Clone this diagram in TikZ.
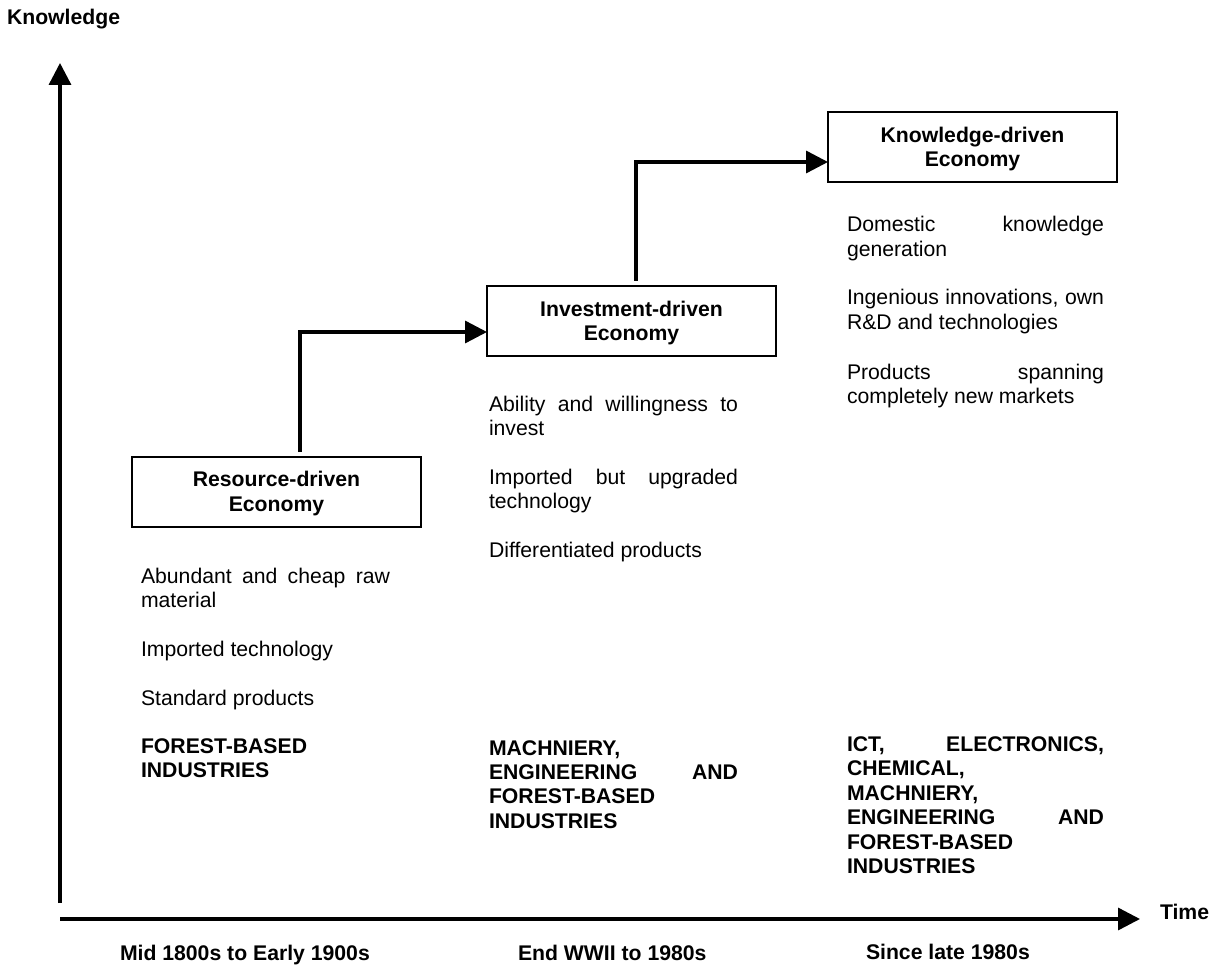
\documentclass[tikz,border=0pt]{standalone}
\usepackage{fontspec}
\setmainfont{Liberation Sans}
\usetikzlibrary{arrows.meta}
\hyphenpenalty=10000
\exhyphenpenalty=10000
\tolerance=10000
\hbadness=10000
\begin{document}
\begin{tikzpicture}[x=1pt,y=-1pt,
  every node/.style={inner sep=0pt, outer sep=0pt},
  txt/.style={font=\fontsize{21.2}{24.4}\selectfont, anchor=base west},
  btxt/.style={font=\fontsize{21.2}{24.4}\selectfont\bfseries, anchor=base west},
  col/.style={txt, text width=#1, align=justify},
  bcol/.style={btxt, text width=#1, align=justify},
  box/.style={draw, line width=1.5pt, minimum width=289pt, minimum height=70pt},
  boxtxt/.style={font=\fontsize{21.2}{24.4}\selectfont\bfseries, align=center, anchor=base},
  conn/.style={line width=3.4pt, -{Triangle[length=22pt,width=22pt]}}
]
\useasboundingbox[fill=white] (0,0) rectangle (1215,965);

% axes
\coordinate (yb) at (60,903);
\coordinate (yt) at (60,63);
\coordinate (xb) at (60,919);
\coordinate (xt) at (1140,919);
\draw[conn] (yb) -- (yt);
\draw[conn] (xb) -- (xt);
\node[btxt] (klab) at (7,25) {Knowledge};
\node[btxt] (tlab) at (1160,919) {Time};

% boxes
\node[box] (res) at (276.5,492) {};
\node[boxtxt] (rest) at (276.5,511) {Resource-driven\\Economy};
\node[box] (inv) at (631.5,321) {};
\node[boxtxt] (invt) at (631.5,341) {Investment-driven\\Economy};
\node[box] (kno) at (972.5,147) {};
\node[boxtxt] (knot) at (972.5,167) {Knowledge-driven\\Economy};

% connectors
\draw[conn, shorten <=5pt] ([xshift=23.5pt]res.north) |- ([yshift=-11pt]inv.west);
\draw[conn, shorten <=5pt] ([xshift=4.5pt]inv.north) |- ([yshift=-15pt]kno.west);

% resource column
\node[col=249pt] (r1) at (141,583) {Abundant and cheap raw\linebreak material};
\node[col=249pt] (r2) at (141,656.5) {Imported technology};
\node[col=249pt] (r3) at (141,705) {Standard products};
\node[bcol=249pt] (r4) at (141,753.5) {FOREST-BASED\linebreak INDUSTRIES};

% investment column
\node[col=249pt] (i1) at (489,411) {Ability and willingness to\linebreak invest};
\node[col=249pt] (i2) at (489,484) {Imported but upgraded\linebreak technology};
\node[col=249pt] (i3) at (489,557) {Differentiated products};
\node[bcol=249pt] (i4) at (489,755) {MACHNIERY,\linebreak ENGINEERING AND\linebreak FOREST-BASED\linebreak INDUSTRIES};

% knowledge column
\node[col=257pt] (k1) at (847,232) {Domestic knowledge\linebreak generation};
\node[col=257pt] (k2) at (847,305) {Ingenious innovations, own\linebreak R\&D and technologies};
\node[col=257pt] (k3) at (847,379) {Products spanning\linebreak completely new markets};
\node[bcol=257pt] (k4) at (847,751.5) {ICT, ELECTRONICS,\linebreak CHEMICAL,\linebreak MACHNIERY,\linebreak ENGINEERING AND\linebreak FOREST-BASED\linebreak INDUSTRIES};

% period labels
\node[btxt] (p1) at (120,960) {Mid 1800s to Early 1900s};
\node[btxt] (p2) at (518,960) {End WWII to 1980s};
\node[btxt] (p3) at (866,959) {Since late 1980s};
\end{tikzpicture}
\end{document}
